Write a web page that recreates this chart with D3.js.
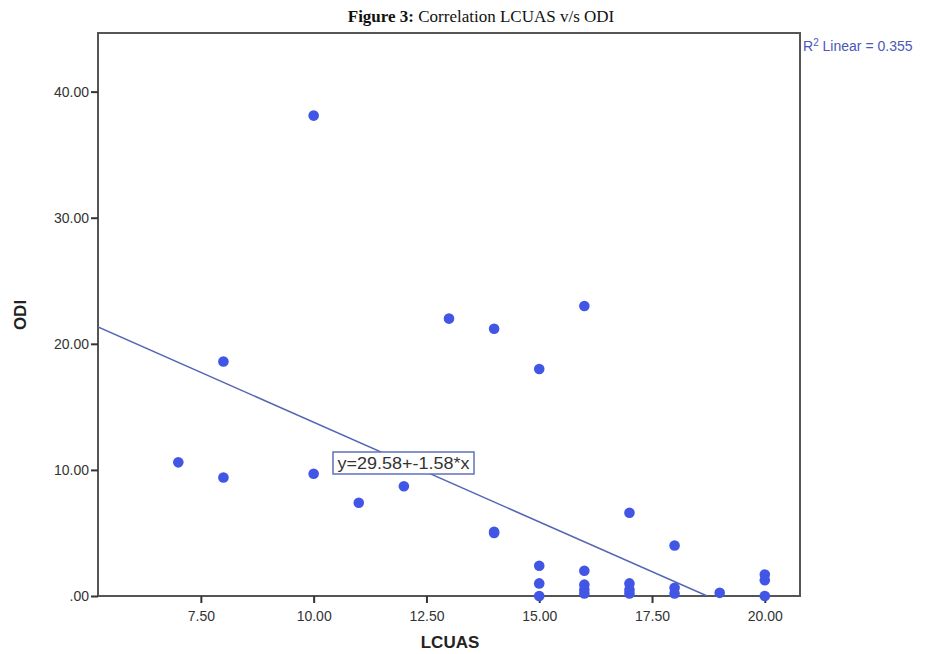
<!DOCTYPE html>
<head>
    <script src="https://d3js.org/d3.v7.min.js"></script>
    <style>
        body { margin: 0; background: #fff; }
        text { font-family: "Liberation Sans", Arial, sans-serif; }
    </style>
</head>
<body>
    <svg></svg>
</body>

<script>
    // data
    var lcuas = [7, 8, 8, 10, 10, 11, 12, 13, 14, 14, 14, 15, 15, 15, 15,
                 16, 16, 16, 16, 16, 17, 17, 17, 17, 18, 18, 18, 19, 20, 20, 20];
    var odi = [10.6, 18.6, 9.4, 38.1, 9.7, 7.4, 8.7, 22.0, 21.2, 5.1, 5.0, 18.0, 2.4, 1.0, 0.0,
               23.0, 2.0, 0.9, 0.5, 0.2, 6.6, 1.0, 0.5, 0.2, 4.0, 0.65, 0.2, 0.25, 1.7, 1.25, 0.0];
    var xTicks = [7.5, 10, 12.5, 15, 17.5, 20];
    var yTicks = [0, 10, 20, 30, 40];
    var intercept = 29.58, slope = -1.58, rSquared = 0.355;

    var width = 928, height = 654;
    var margin = {top: 33, right: 128, bottom: 58, left: 98};

    var svg = d3.select('svg')
        .attr('width', width)
        .attr('height', height);

    var x = d3.scaleLinear()
        .domain([5.22, 20.78])
        .range([margin.left, width - margin.right]);

    var y = d3.scaleLinear()
        .domain([0, 44.65])
        .range([height - margin.bottom, margin.top]);

    // title
    var title = svg.append('text')
        .attr('x', 481)
        .attr('y', 22)
        .attr('text-anchor', 'middle')
        .style('font-family', '"Liberation Serif", "Times New Roman", serif')
        .style('font-size', '17px')
        .style('fill', '#111');
    title.append('tspan').style('font-weight', 'bold').text('Figure 3:');
    title.append('tspan').text(' Correlation LCUAS v/s ODI');

    // frame
    svg.append('rect')
        .attr('x', x.range()[0])
        .attr('y', y.range()[1])
        .attr('width', x.range()[1] - x.range()[0])
        .attr('height', y.range()[0] - y.range()[1])
        .attr('fill', 'none')
        .attr('stroke', '#555')
        .attr('stroke-width', 2);

    // axes
    var xAxis = svg.append('g')
        .attr('transform', 'translate(0,' + y.range()[0] + ')')
        .call(d3.axisBottom(x).tickValues(xTicks).tickSize(7).tickFormat(d3.format('.2f')));
    var yAxis = svg.append('g')
        .attr('transform', 'translate(' + x.range()[0] + ',0)')
        .call(d3.axisLeft(y).tickValues(yTicks).tickSize(7)
            .tickFormat(function (d) { return d === 0 ? '.00' : d3.format('.2f')(d); }));

    [xAxis, yAxis].forEach(function (a) {
        a.select('.domain').remove();
        a.selectAll('line').attr('stroke', '#333').attr('stroke-width', 2);
        a.selectAll('text').style('font-size', '14px').style('fill', '#333')
            .style('font-family', '"Liberation Sans", Arial, sans-serif');
    });
    xAxis.selectAll('text').attr('dy', '1.05em');
    yAxis.selectAll('text').attr('x', -9);

    // axis titles
    svg.append('text')
        .attr('x', 450)
        .attr('y', 648)
        .attr('text-anchor', 'middle')
        .style('font-size', '17px')
        .style('font-weight', 'bold')
        .style('fill', '#222')
        .text('LCUAS');
    svg.append('text')
        .attr('transform', 'translate(26,315) rotate(-90)')
        .attr('text-anchor', 'middle')
        .style('font-size', '17px')
        .style('font-weight', 'bold')
        .style('fill', '#222')
        .text('ODI');

    // fit line, clipped to the plot area
    svg.append('clipPath').attr('id', 'plot')
        .append('rect')
        .attr('x', x.range()[0]).attr('y', y.range()[1])
        .attr('width', x.range()[1] - x.range()[0])
        .attr('height', y.range()[0] - y.range()[1]);

    var x0 = x.domain()[0], x1 = -intercept / slope;
    svg.append('line')
        .attr('clip-path', 'url(#plot)')
        .attr('x1', x(x0)).attr('y1', y(intercept + slope * x0))
        .attr('x2', x(x1)).attr('y2', y(intercept + slope * x1))
        .attr('stroke', '#5565b5')
        .attr('stroke-width', 1.5);

    // points
    svg.append('g')
        .selectAll('circle')
        .data(d3.range(lcuas.length))
        .enter().append('circle')
        .attr('cx', function (i) { return x(lcuas[i]); })
        .attr('cy', function (i) { return y(odi[i]); })
        .attr('r', 5.3)
        .attr('fill', '#4256e6');

    // equation label
    var eq = svg.append('g').attr('transform', 'translate(333,452)');
    eq.append('rect')
        .attr('width', 141).attr('height', 22)
        .attr('fill', '#fff')
        .attr('stroke', '#6070c0')
        .attr('stroke-width', 1.5);
    eq.append('text')
        .attr('x', 70.5).attr('y', 16.5)
        .attr('text-anchor', 'middle')
        .attr('textLength', 132)
        .attr('lengthAdjust', 'spacingAndGlyphs')
        .style('font-size', '16px')
        .style('fill', '#333')
        .text('y=' + intercept.toFixed(2) + '+' + slope.toFixed(2) + '*x');

    // R squared label
    var r2 = svg.append('text')
        .attr('x', 803).attr('y', 51)
        .style('font-size', '14px')
        .style('fill', '#4a58b8');
    r2.append('tspan').text('R');
    r2.append('tspan').attr('dy', -5).style('font-size', '10px').text('2');
    r2.append('tspan').attr('dy', 5).text(' Linear = ' + rSquared.toFixed(3));
</script>
